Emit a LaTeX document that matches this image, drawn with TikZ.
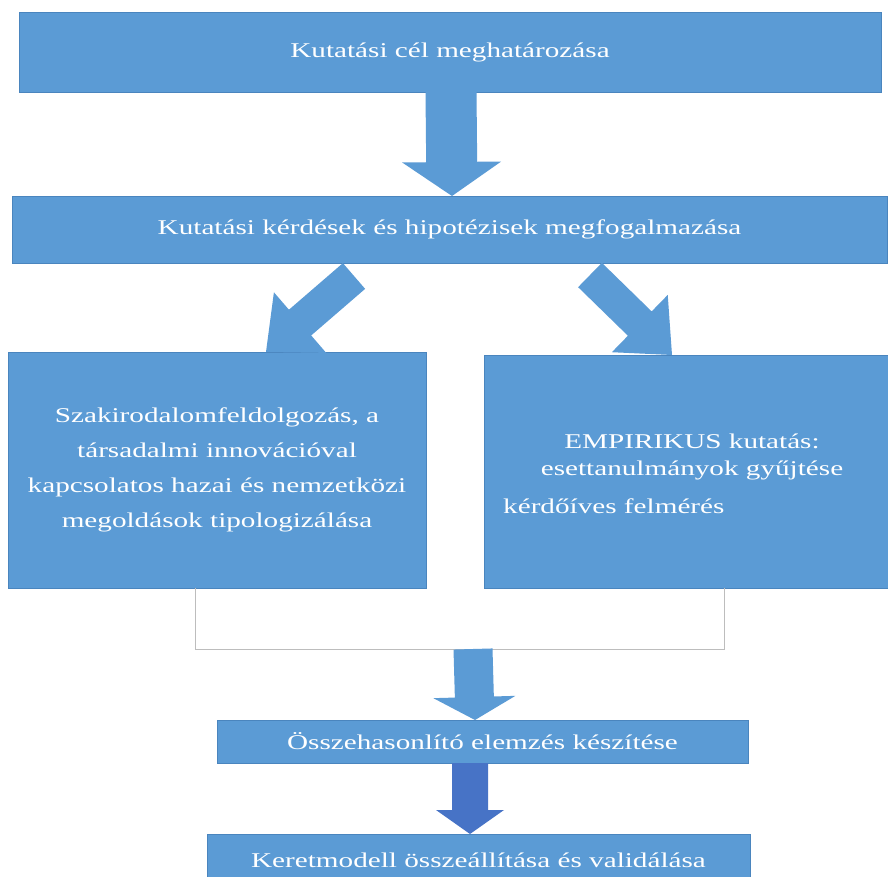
\documentclass[tikz,border=0pt]{standalone}
\usepackage{fontspec}
\setmainfont{Liberation Serif}[FakeStretch=1.39]
\usetikzlibrary{calc}
\definecolor{boxblue}{HTML}{5B9BD5}
\definecolor{boxedge}{HTML}{4A85BE}
\definecolor{darkarrow}{HTML}{4773C6}
\definecolor{bracketgray}{HTML}{BDBDBD}
\newcommand\blockarrow[6]{%
  \coordinate (ba-base) at ($(#2)!#5!(#1)$);
  \fill[#6] ($(#1)!#3!90:(#2)$) -- ($(ba-base)!#3!90:(#2)$) -- ($(ba-base)!#4!90:(#2)$) -- (#2)
    -- ($(ba-base)!#4!-90:(#2)$) -- ($(ba-base)!#3!-90:(#2)$) -- ($(#1)!#3!-90:(#2)$) -- cycle;}
\begin{document}
\begin{tikzpicture}[x=1pt,y=-1pt,
  box/.style={rectangle, fill=boxblue, draw=boxedge, line width=0.6pt, inner sep=0pt},
  lbl/.style={text=white, font=\fontsize{21}{24}\selectfont, inner sep=0pt}]
\useasboundingbox (0,0) rectangle (888,877);
\clip (0,0) rectangle (888,877);
\fill[white] (0,0) rectangle (888,877);

% boxes
\node[box, lbl, minimum width=862pt, minimum height=80pt] (b1) at (450,52) {Kutatási cél meghatározása};
\node[box, lbl, minimum width=875pt, minimum height=67pt] (b2) at (449.5,229.5) {Kutatási kérdések és hipotézisek megfogalmazása};
\node[box, minimum width=418pt, minimum height=236pt] (lit) at (217,470) {};
\node[lbl, align=center, font=\fontsize{21}{35}\selectfont] (littext) at (lit.center) {Szakirodalomfeldolgozás, a\\ társadalmi innovációval\\ kapcsolatos hazai és nemzetközi\\ megoldások tipologizálása};
\node[box, minimum width=410pt, minimum height=233pt] (emp) at (689,471.5) {};
\node[lbl, align=center, font=\fontsize{21}{27}\selectfont] (emptext) at (692,457) {EMPIRIKUS kutatás:\\ esettanulmányok gyűjtése};
\node[lbl, anchor=base west] (survey) at (503,513) {kérdőíves felmérés};
\node[box, lbl, minimum width=531pt, minimum height=43pt] (b4) at (482.5,741.5) {Összehasonlító elemzés készítése};
\node[box, lbl, minimum width=543pt, minimum height=52pt] (b5) at (478.5,860) {Keretmodell összeállítása és validálása};

% bracket joining the two columns
\coordinate (brl) at (195,588);
\coordinate (brlb) at (195,649);
\coordinate (brr) at (724,588);
\coordinate (brrb) at (724,649);
\draw[bracketgray, line width=0.8pt] (brl) -- (brlb) -- (brrb) -- (brr);

% block arrows
\coordinate (a1t) at (451,92);
\coordinate (a1p) at (452,196);
\blockarrow{a1t}{a1p}{25.5pt}{49.5pt}{34pt}{boxblue}
\coordinate (a2t) at (354,276);
\coordinate (a2p) at (266,352);
\blockarrow{a2t}{a2p}{17pt}{40pt}{45pt}{boxblue}
\coordinate (a3t) at (590,275);
\coordinate (a3p) at (672,355);
\blockarrow{a3t}{a3p}{17pt}{40pt}{45pt}{boxblue}
\coordinate (a4t) at (473,649);
\coordinate (a4p) at (475,720);
\blockarrow{a4t}{a4p}{19.5pt}{41pt}{23pt}{boxblue}
\coordinate (a5t) at (470,763);
\coordinate (a5p) at (470,834);
\blockarrow{a5t}{a5p}{18pt}{34pt}{24pt}{darkarrow}
\end{tikzpicture}
\end{document}
